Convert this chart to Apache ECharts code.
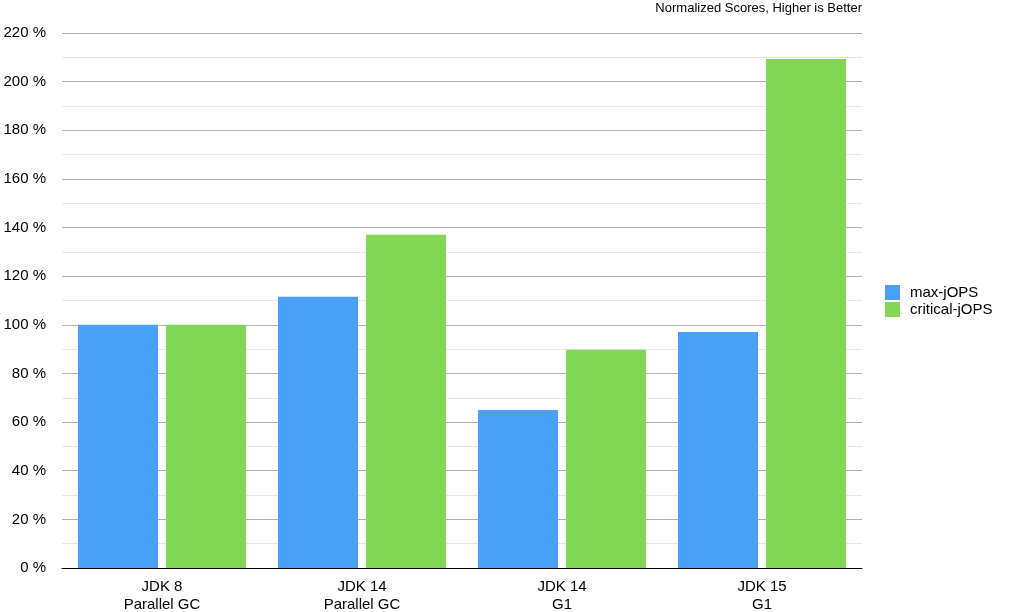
<!DOCTYPE html>
<html>
<head>
<meta charset="utf-8">
<script src="https://cdn.jsdelivr.net/npm/echarts@6/dist/echarts.min.js"></script>
<style>html,body{margin:0;padding:0;background:#fff}#c{width:1022px;height:612px}</style>
</head>
<body>
<div id="c"></div>
<script>
const categories = ['JDK 8\nParallel GC', 'JDK 14\nParallel GC', 'JDK 14\nG1', 'JDK 15\nG1'];
const maxJOPS = [100, 111.5, 65, 97];
const criticalJOPS = [100, 137, 89.7, 209.3];
const seriesNames = ['max-jOPS', 'critical-jOPS'];
const titleText = 'Normalized Scores, Higher is Better';

const font = '"Liberation Sans", Arial, Helvetica, sans-serif';
const chart = echarts.init(document.getElementById('c'));
chart.setOption({
  animation: false,
  textStyle: { fontFamily: font },
  title: {
    text: titleText, right: 160, top: 2, padding: 0,
    textStyle: { fontSize: 13, fontWeight: 'normal', color: '#000', fontFamily: font }
  },
  legend: {
    orient: 'vertical', left: 885, top: 285, padding: 0, itemWidth: 15, itemHeight: 15, itemGap: 2,
    icon: 'rect',
    textStyle: { fontSize: 15, color: '#000', fontFamily: font, padding: [0, 0, 0, 5] },
    data: seriesNames
  },
  grid: { left: 62, right: 160, top: 33, bottom: 44, containLabel: false, outerBoundsMode: 'none' },
  xAxis: {
    type: 'category', data: categories,
    axisLine: { lineStyle: { color: '#000', width: 1 } },
    axisTick: { show: false },
    axisLabel: { fontSize: 15, color: '#000', lineHeight: 18, margin: 10, fontFamily: font }
  },
  yAxis: {
    type: 'value', min: 0, max: 220, interval: 20,
    axisLine: { show: false }, axisTick: { show: false },
    axisLabel: { formatter: '{value} %', fontSize: 15, color: '#000', margin: 16, fontFamily: font },
    splitLine: { lineStyle: { color: '#b3b3b3', width: 1 } },
    minorTick: { show: false, splitNumber: 2 },
    minorSplitLine: { show: true, lineStyle: { color: '#e6e6e6', width: 1 } }
  },
  series: [
    { name: seriesNames[0], type: 'bar', data: maxJOPS, itemStyle: { color: '#4a9ff7' },
      barGap: '10%', barCategoryGap: '16%' },
    { name: seriesNames[1], type: 'bar', data: criticalJOPS, itemStyle: { color: '#84d656' },
      barGap: '10%', barCategoryGap: '16%' }
  ]
});
</script>
</body>
</html>
